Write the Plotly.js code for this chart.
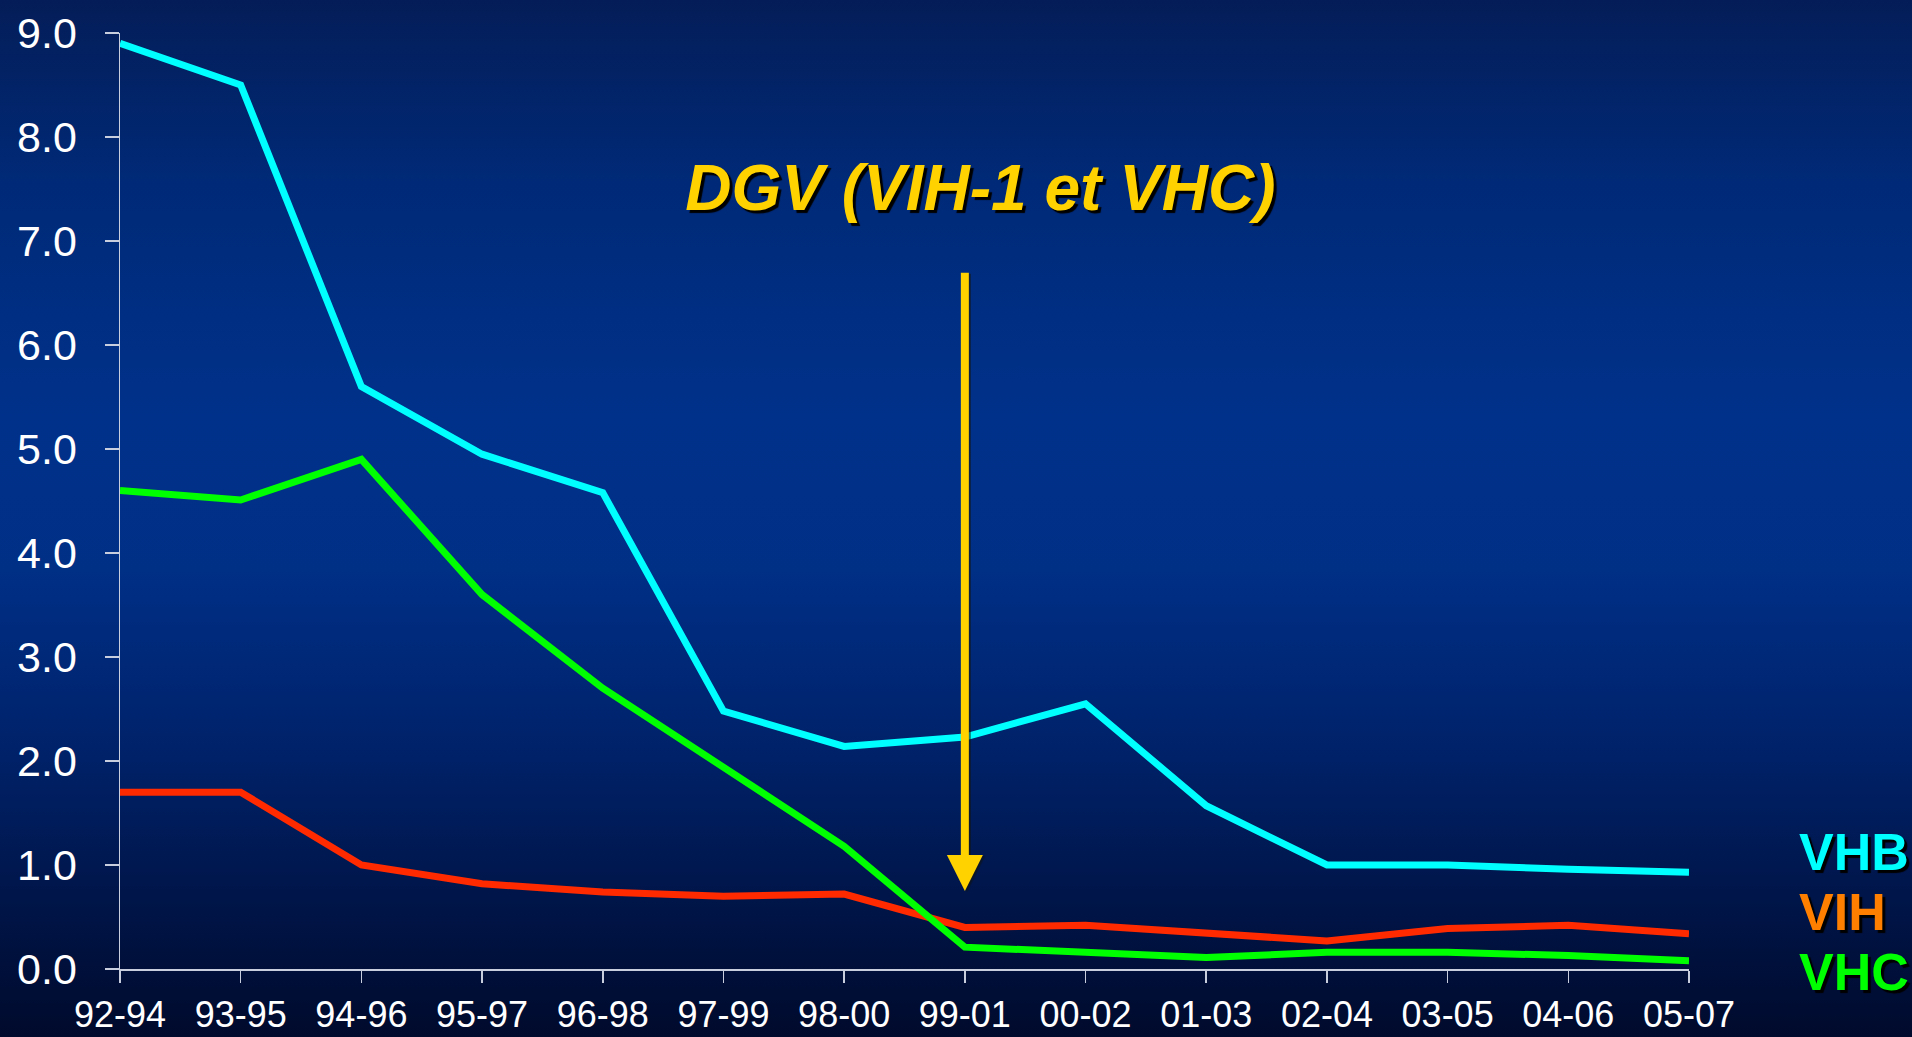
<!DOCTYPE html>
<html>
<head>
<meta charset="utf-8">
<script src="https://cdn.plot.ly/plotly-3.0.1.min.js"></script>
<style>
  html, body { margin: 0; padding: 0; }
  body {
    width: 1912px; height: 1037px; overflow: hidden;
    background: linear-gradient(to bottom, #041d58 0%, #002a78 18%, #00318a 40%, #002f86 55%, #00226a 72%, #001446 88%, #000a2c 100%);
  }
  #chart { width: 1912px; height: 1037px; }
</style>
</head>
<body>
<div id="chart"></div>
<script>
// ---- data ----
const periods = ["92-94","93-95","94-96","95-97","96-98","97-99","98-00","99-01","00-02","01-03","02-04","03-05","04-06","05-07"];
const vhb = [8.9, 8.5, 5.6, 4.95, 4.58, 2.48, 2.14, 2.23, 2.55, 1.57, 1.0, 1.0, 0.96, 0.93];
const vih = [1.7, 1.7, 1.0, 0.82, 0.74, 0.70, 0.72, 0.40, 0.42, 0.34, 0.27, 0.39, 0.42, 0.34];
const vhc = [4.6, 4.51, 4.9, 3.6, 2.7, 1.95, 1.18, 0.21, 0.16, 0.11, 0.16, 0.16, 0.13, 0.08];
const yTicks = [0, 1, 2, 3, 4, 5, 6, 7, 8, 9];
const yTickText = ["0.0","1.0","2.0","3.0","4.0","5.0","6.0","7.0","8.0","9.0"];
const seriesNames = ["VHB", "VIH", "VHC"];
const titleText = "DGV (VIH-1 et VHC)";
const arrowPeriod = "99-01";

const FONT = 'Arial, "Liberation Sans", sans-serif';
const AXIS = '#c9cede';

const traces = [
  { x: periods, y: vih, name: seriesNames[1], type: 'scatter', mode: 'lines',
    line: { color: '#ff2a00', width: 7 }, cliponaxis: false, showlegend: false },
  { x: periods, y: vhc, name: seriesNames[2], type: 'scatter', mode: 'lines',
    line: { color: '#00ff00', width: 7 }, cliponaxis: false, showlegend: false },
  { x: periods, y: vhb, name: seriesNames[0], type: 'scatter', mode: 'lines',
    line: { color: '#00ffff', width: 7 }, cliponaxis: false, showlegend: false }
];

const legendColors = ['#00ffff', '#ff8000', '#00ff00'];
const legendY = [0.1245, 0.0605, -0.0035];

const annotations = seriesNames.map((n, i) => ({
  text: '<b>' + n + '</b>', xref: 'paper', yref: 'paper',
  x: 1.0688, y: legendY[i], xanchor: 'left', yanchor: 'middle', showarrow: false,
  font: { family: FONT, size: 52, color: legendColors[i], weight: 'bold', shadow: '3px 3px 1px #000000' }
}));

// arrow shadow + arrow
annotations.push({
  x: arrowPeriod, y: 0.75, xref: 'x', yref: 'y', axref: 'x', ayref: 'y', ax: arrowPeriod, ay: 6.71,
  text: '', showarrow: true, arrowhead: 2, arrowwidth: 8, arrowsize: 0.9, standoff: 0, startstandoff: 0,
  arrowcolor: 'rgba(20,20,10,0.55)', xshift: 2, yshift: -1
});
annotations.push({
  x: arrowPeriod, y: 0.75, xref: 'x', yref: 'y', axref: 'x', ayref: 'y', ax: arrowPeriod, ay: 6.71,
  text: '', showarrow: true, arrowhead: 2, arrowwidth: 8, arrowsize: 0.9, standoff: 0, startstandoff: 0,
  arrowcolor: '#ffd200'
});

const layout = {
  width: 1912, height: 1037,
  margin: { l: 120, r: 223, t: 33, b: 68 },
  paper_bgcolor: 'rgba(0,0,0,0)', plot_bgcolor: 'rgba(0,0,0,0)',
  font: { family: FONT, color: '#ffffff' },
  title: {
    text: '<b><i>' + titleText + '</i></b>',
    xref: 'paper', x: 0.5484, xanchor: 'center',
    yref: 'container', y: 0.8187, yanchor: 'middle',
    font: { family: FONT, size: 64, color: '#ffd200', weight: 'bold', style: 'italic', shadow: '3px 3px 1px #000000' }
  },
  xaxis: {
    type: 'category', range: [0, periods.length - 1],
    showgrid: false, zeroline: false, showline: true, linecolor: AXIS, linewidth: 1.5,
    ticks: 'outside', ticklen: 12, tickwidth: 1.5, tickcolor: AXIS, ticklabelstandoff: 1,
    tickfont: { family: FONT, size: 36, color: '#ffffff' }, fixedrange: true
  },
  yaxis: {
    range: [0, 9], tickvals: yTicks, ticktext: yTickText,
    showgrid: false, zeroline: false, showline: true, linecolor: AXIS, linewidth: 1.5,
    ticks: 'outside', ticklen: 14, tickwidth: 1.5, tickcolor: AXIS, ticklabelstandoff: 19,
    tickfont: { family: FONT, size: 43, color: '#ffffff' }, fixedrange: true
  },
  annotations: annotations,
  showlegend: false
};

Plotly.newPlot('chart', traces, layout, { displayModeBar: false, staticPlot: true });
</script>
</body>
</html>
